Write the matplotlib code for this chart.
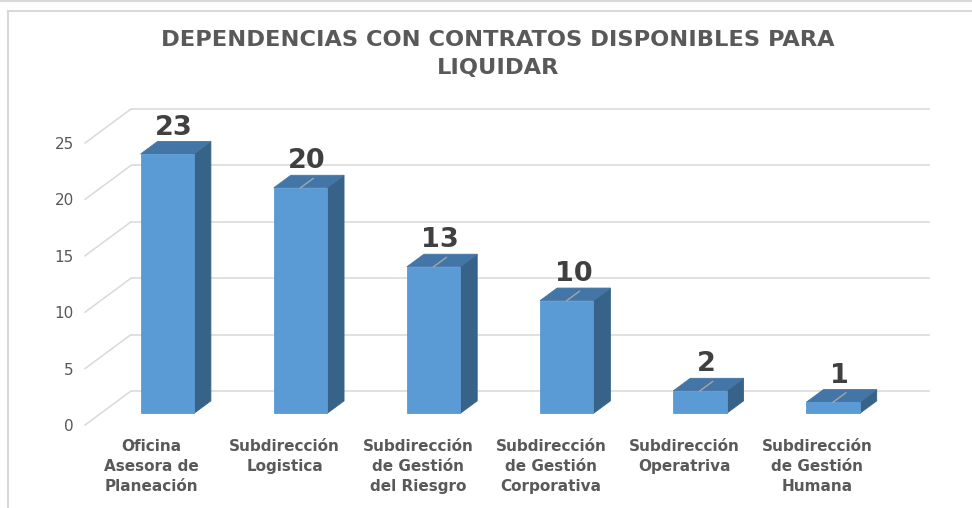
import matplotlib
matplotlib.use("Agg")
import matplotlib.pyplot as plt
from matplotlib.patches import Polygon
from matplotlib.lines import Line2D

# ---- data ----
title = "DEPENDENCIAS CON CONTRATOS DISPONIBLES PARA\nLIQUIDAR"
categories = [
    "Oficina\nAsesora de\nPlaneación",
    "Subdirección\nLogistica",
    "Subdirección\nde Gestión\ndel Riesgro",
    "Subdirección\nde Gestión\nCorporativa",
    "Subdirección\nOperatriva",
    "Subdirección\nde Gestión\nHumana",
]
values = [23, 20, 13, 10, 2, 1]
y_ticks = [0, 5, 10, 15, 20, 25]
show_leader = [False, True, True, True, True, True]

# ---- style ----
W, H = 972, 508
FRONT = "#5B9BD5"
SIDE = "#386389"
TOP = "#4475A7"
GRID = "#D9D9D9"
TXT = "#595959"
VAL = "#404040"

fig = plt.figure(figsize=(W / 100, H / 100), dpi=100)
fig.patch.set_facecolor("white")

# front plane of the 3-D box
x0, x1 = 85, 884
y0, y1 = 425, 143
ax = fig.add_axes([x0 / W, (H - y0) / H, (x1 - x0) / W, (y0 - y1) / H])
n = len(categories)
ax.set_xlim(-0.5, n - 0.5)
ax.set_ylim(0, 25)
for s in ax.spines.values():
    s.set_visible(False)
ax.patch.set_alpha(0)

# depth vector (data units) and bar geometry
DX = 46 / ((x1 - x0) / n)
DY = 34 / ((y0 - y1) / 25)
f0, f1 = 0.34, 0.71
bw = 0.40

# back wall gridlines + left wall diagonals
for v in y_ticks:
    ax.plot([-0.5 + DX, n - 0.5 + DX], [v + DY, v + DY], color=GRID, lw=1.1,
            zorder=1, clip_on=False, solid_capstyle="butt")
    ax.plot([-0.5, -0.5 + DX], [v, v + DY], color=GRID, lw=1.1, zorder=1,
            clip_on=False)

# 3-D bars
for i, v in enumerate(values):
    l = i - bw / 2 + f0 * DX
    r = i + bw / 2 + f0 * DX
    b0 = f0 * DY
    ddx = (f1 - f0) * DX
    ddy = (f1 - f0) * DY
    front = [(l, b0), (r, b0), (r, b0 + v), (l, b0 + v)]
    side = [(r, b0), (r + ddx, b0 + ddy), (r + ddx, b0 + ddy + v), (r, b0 + v)]
    top = [(l, b0 + v), (r, b0 + v), (r + ddx, b0 + v + ddy), (l + ddx, b0 + v + ddy)]
    for pts, col in ((side, SIDE), (top, TOP), (front, FRONT)):
        ax.add_patch(Polygon(pts, closed=True, facecolor=col, edgecolor=col,
                             lw=0.6, zorder=3, clip_on=False))
    cx = i + f0 * DX
    if show_leader[i]:
        ax.plot([cx, cx + 0.75 * ddx], [b0 + v, b0 + v + 0.75 * ddy],
                color="#A6A6A6", lw=1.0, zorder=4, clip_on=False)
    ax.text(cx + 0.05, v + f1 * DY + 0.08, f"{v}", ha="center", va="bottom",
            fontsize=19.5, fontweight="heavy", color=VAL, zorder=5)

# axes ticks / labels
ax.set_yticks(y_ticks)
ax.set_yticklabels([str(t) for t in y_ticks], fontsize=11, color=TXT)
ax.set_xticks(range(n))
ax.set_xticklabels(categories, fontsize=11, fontweight="bold", color=TXT,
                   linespacing=1.42)
ax.tick_params(axis="y", length=0, pad=8)
ax.tick_params(axis="x", length=0, pad=10)

# title
fig.text(498 / W, 1 - 54 / H, title, ha="center", va="center", fontsize=16.2,
         fontweight="bold", color=TXT, linespacing=1.55)

# chart frame
fig.add_artist(Line2D([0, 1], [1 - 0.8 / H, 1 - 0.8 / H], transform=fig.transFigure,
                      color=GRID, lw=1.5))
fig.add_artist(Line2D([7.8 / W, 1], [1 - 10.8 / H, 1 - 10.8 / H], transform=fig.transFigure,
                      color=GRID, lw=1.5))
fig.add_artist(Line2D([7.8 / W, 7.8 / W], [0, 1 - 10.8 / H], transform=fig.transFigure,
                      color=GRID, lw=1.5))

fig.savefig("out.png", dpi=100, facecolor="white")
